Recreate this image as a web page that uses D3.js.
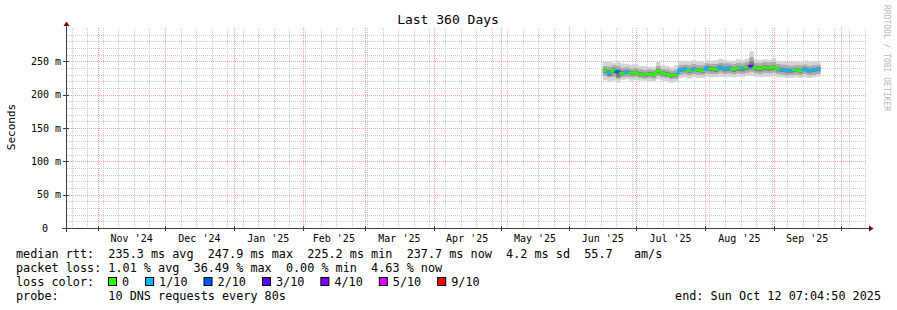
<!DOCTYPE html>
<html>
<head>
<meta charset="utf-8">
<script src="https://cdn.jsdelivr.net/npm/d3@7.9.0/dist/d3.min.js"></script>
<style>
  body { margin: 0; background: #fff; }
  svg { display: block; }
  text { font-family: "DejaVu Sans Mono", monospace; fill: #000; }
</style>
</head>
<body>
<svg id="chart" width="897" height="310"></svg>
<script>
// --- data (ms) ---
const sampleDates = ["2025-06-16","2025-06-18","2025-06-20","2025-06-22","2025-06-24","2025-06-26","2025-06-28","2025-06-30",
  "2025-07-02","2025-07-04","2025-07-06","2025-07-08","2025-07-10","2025-07-12","2025-07-14","2025-07-16","2025-07-18",
  "2025-07-20","2025-07-22","2025-07-24","2025-07-26","2025-07-28","2025-07-30","2025-08-01","2025-08-03","2025-08-05",
  "2025-08-07","2025-08-09","2025-08-11","2025-08-13","2025-08-15","2025-08-17","2025-08-19","2025-08-21","2025-08-23",
  "2025-08-25","2025-08-27","2025-08-29","2025-08-31","2025-09-02","2025-09-04","2025-09-06","2025-09-08","2025-09-10",
  "2025-09-12","2025-09-14","2025-09-16","2025-09-18","2025-09-20"];
const dataEnd = "2025-09-22";

const medianRtt = [236,233,237,234,232,234,232,233,231,230,231,230,236,232,231,229,230,
  237,238,236,238,237,236,240,239,238,241,239,240,238,240,239,241,243,240,
  239,241,240,241,238,237,236,236,237,236,238,236,237,238];
const smokeMin  = [222,219,221,218,222,223,221,222,221,221,220,220,223,221,220,218,219,
  225,226,224,226,225,225,227,226,226,227,226,227,226,227,226,228,228,227,
  226,227,227,228,226,226,225,225,226,225,226,225,226,227];
const smokeLow  = [228,226,227,224,226,227,226,227,225,224,225,224,228,226,225,223,224,
  230,231,229,231,230,230,232,231,231,233,231,232,231,232,231,233,234,232,
  231,233,232,233,231,230,229,230,230,229,231,229,230,231];
const coreLow   = [233,228,232,226,229,231,229,230,228,227,228,227,232,229,228,226,227,
  234,235,233,235,234,233,236,235,234,237,235,236,234,236,235,237,238,236,
  235,237,236,237,235,234,233,233,234,233,235,233,234,235];
const coreHigh  = [239,237,240,238,236,237,235,236,234,233,234,233,239,235,234,232,233,
  240,241,239,241,240,239,243,242,241,244,242,243,241,243,242,244,250,243,
  242,244,243,244,241,240,239,239,240,239,241,239,240,241];
const smokeHigh = [243,242,244,243,240,241,239,240,238,237,238,237,243,239,238,236,237,
  244,245,244,246,244,244,247,246,246,248,247,247,246,248,247,249,256,248,
  247,249,248,249,246,245,244,243,244,244,245,243,244,245];
const smokeMax  = [249,250,248,251,247,246,245,246,243,243,242,242,249,244,243,241,244,
  250,251,250,252,250,249,252,251,252,254,252,251,251,253,252,254,265,253,
  252,253,252,255,251,250,249,249,250,249,251,249,250,250];
const lossRatio = [0,0.1,0,0.2,0,0.1,0,0,0,0,0,0,0,0,0,0,0,
  0.1,0.1,0,0.1,0,0,0.1,0,0,0.1,0.1,0.1,0,0,0.1,0,0.3,0,
  0,0,0,0,0,0.1,0.1,0.1,0,0,0.1,0.1,0.1,0.1];

const lossLabels = ["0","1/10","2/10","3/10","4/10","5/10","9/10"];
const lossColors = ["#26ff00","#00b8ff","#0059ff","#5e00ff","#7e00ff","#dd00ff","#ff0000"];
const lossSteps  = [0.05,0.15,0.25,0.35,0.45,0.55];

const yTicks = [0,50,100,150,200,250];
const yTickLabels = ["0","50 m","100 m","150 m","200 m","250 m"];

const medianLegend = "median rtt:  235.3 ms avg  247.9 ms max  225.2 ms min  237.7 ms now  4.2 ms sd  55.7   am/s";
const lossLegend   = "packet loss: 1.01 % avg  36.49 % max  0.00 % min  4.63 % now";
const probeLegend  = "probe:       10 DNS requests every 80s";
const endLegend    = "end: Sun Oct 12 07:04:50 2025";

// --- layout ---
const plotLeft = 67, plotRight = 867, plotTop = 28, plotBottom = 228;
const svg = d3.select("#chart");
svg.append("rect").attr("width", 897).attr("height", 310).attr("fill", "#fff");

const x = d3.scaleUtc()
  .domain([new Date(Date.UTC(2024, 9, 17, 22)), new Date(Date.UTC(2025, 9, 12, 22))])
  .range([plotLeft, plotRight]);
const y = d3.scaleLinear().domain([0, 300]).range([plotBottom, plotTop]);
const lossColor = d3.scaleThreshold().domain(lossSteps).range(lossColors);

const [t0, t1] = x.domain();
const grid = svg.append("g");
const months = d3.utcMonth.range(d3.utcMonth.ceil(t0), t1);
const monthPx = new Set(months.map(d => Math.round(x(d))));

// minor grid
d3.range(10, 300, 10).filter(v => v % 50 !== 0).forEach(v => {
  grid.append("line").attr("x1", plotLeft).attr("x2", plotRight)
    .attr("y1", Math.round(y(v)) + 0.5).attr("y2", Math.round(y(v)) + 0.5)
    .attr("stroke", "#cccccc").attr("stroke-dasharray", "1,1");
});
d3.utcSunday.range(t0, t1).forEach(d => {
  const p = Math.round(x(d));
  if (monthPx.has(p) || monthPx.has(p - 1) || monthPx.has(p + 1)) return;
  grid.append("line").attr("x1", p + 0.5).attr("x2", p + 0.5).attr("y1", plotTop).attr("y2", plotBottom)
    .attr("stroke", "#cccccc").attr("stroke-dasharray", "1,1");
});
// major grid
yTicks.slice(1).forEach(v => {
  grid.append("line").attr("x1", plotLeft).attr("x2", plotRight)
    .attr("y1", Math.round(y(v)) + 0.5).attr("y2", Math.round(y(v)) + 0.5)
    .attr("stroke", "#ffa0a0").attr("stroke-dasharray", "1,1");
});
months.forEach(d => {
  const px = Math.round(x(d)) + 0.5;
  grid.append("line").attr("x1", px).attr("x2", px).attr("y1", plotTop).attr("y2", plotBottom)
    .attr("stroke", "#ffa0a0").attr("stroke-dasharray", "1,1");
});

// --- smoke ---
const pts = sampleDates.map((s, i) => ({
  date: new Date(s + "T00:00:00Z"), med: medianRtt[i],
  min: smokeMin[i], low: smokeLow[i], cl: coreLow[i], ch: coreHigh[i],
  high: smokeHigh[i], max: smokeMax[i], loss: lossRatio[i]
}));
const steps = [...pts, { ...pts[pts.length - 1], date: new Date(dataEnd + "T00:00:00Z") }];

const bands = [["min", "max", "#d4d4d4"], ["low", "high", "#aaaaaa"], ["cl", "ch", "#7c7c7c"]];
bands.forEach(([lo, hi, col]) => {
  svg.append("path").datum(steps)
    .attr("fill", col)
    .attr("d", d3.area().curve(d3.curveStepAfter)
      .x(d => x(d.date)).y0(d => y(d[lo])).y1(d => y(d[hi])));
});

// median line coloured by loss
pts.forEach((d, i) => {
  const prev = i > 0 ? pts[i - 1].med : d.med;
  const x0 = x(d.date), x1 = x(steps[i + 1].date);
  svg.append("path")
    .attr("d", `M${x0},${y(prev)}V${y(d.med)}H${x1}`)
    .attr("fill", "none").attr("stroke", lossColor(d.loss)).attr("stroke-width", 2.5);
});

// --- axes ---
const axisCol = "#404040", arrowCol = "#7a0000";
svg.append("line").attr("x1", 62).attr("x2", 869).attr("y1", plotBottom + 0.5).attr("y2", plotBottom + 0.5)
  .attr("stroke", axisCol);
svg.append("line").attr("x1", plotLeft - 0.5).attr("x2", plotLeft - 0.5).attr("y1", plotBottom + 4).attr("y2", 25)
  .attr("stroke", axisCol);
svg.append("path").attr("d", `M869,${plotBottom - 2.5}L873.5,${plotBottom + 0.5}L869,${plotBottom + 3.5}Z`).attr("fill", arrowCol);
svg.append("path").attr("d", `M${plotLeft - 3.5},26L${plotLeft - 0.5},21.5L${plotLeft + 2.5},26Z`).attr("fill", arrowCol);

yTicks.forEach(v => {
  const py = Math.round(y(v)) + 0.5;
  svg.append("line").attr("x1", plotLeft - 4).attr("x2", plotLeft + 2).attr("y1", py).attr("y2", py).attr("stroke", axisCol);
});
months.forEach(d => {
  const px = Math.round(x(d)) + 0.5;
  svg.append("line").attr("x1", px).attr("x2", px).attr("y1", plotBottom - 2).attr("y2", plotBottom + 3).attr("stroke", axisCol);
});

// y tick labels
yTicks.forEach((v, i) => {
  svg.append("text").attr("x", v === 0 ? 48 : 61).attr("y", y(v) + 3.5)
    .attr("text-anchor", "end").attr("font-size", "10px").text(yTickLabels[i]);
});
// month labels at mid month
const fmt = d3.utcFormat("%b '%y");
months.forEach(d => {
  const next = d3.utcMonth.offset(d, 1);
  const mid = new Date((+d + +next) / 2);
  if (mid > t1) return;
  svg.append("text").attr("x", x(mid)).attr("y", 241.5)
    .attr("text-anchor", "middle").attr("font-size", "10px").text(fmt(d));
});

// titles
svg.append("text").attr("x", 448).attr("y", 24).attr("text-anchor", "middle")
  .attr("font-size", "13px").text("Last 360 Days");
svg.append("text").attr("transform", "translate(15,127) rotate(-90)").attr("text-anchor", "middle")
  .attr("font-size", "11px").text("Seconds");
svg.append("text").attr("transform", "translate(884,5) rotate(90)")
  .attr("font-size", "8px").style("fill", "#b8b8b8").text("RRDTOOL / TOBI OETIKER");

// --- legend ---
const legendSize = "11.8px";
[[medianLegend, 258], [lossLegend, 272], ["loss color:", 286], [probeLegend, 300]].forEach(([t, by]) => {
  svg.append("text").attr("x", 16).attr("y", by).attr("font-size", legendSize)
    .attr("xml:space", "preserve").style("white-space", "pre").text(t);
});
svg.append("text").attr("x", 881).attr("y", 300).attr("text-anchor", "end")
  .attr("font-size", legendSize).text(endLegend);

let lx = 108;
lossLabels.forEach((lab, i) => {
  svg.append("rect").attr("x", lx + 0.5).attr("y", 277.5).attr("width", 8).attr("height", 8)
    .attr("fill", lossColors[i]).attr("stroke", "#000");
  const t = svg.append("text").attr("x", lx + 14).attr("y", 286).attr("font-size", legendSize).text(lab);
  lx += 14 + t.node().getComputedTextLength() + 16;
});
</script>
</body>
</html>
